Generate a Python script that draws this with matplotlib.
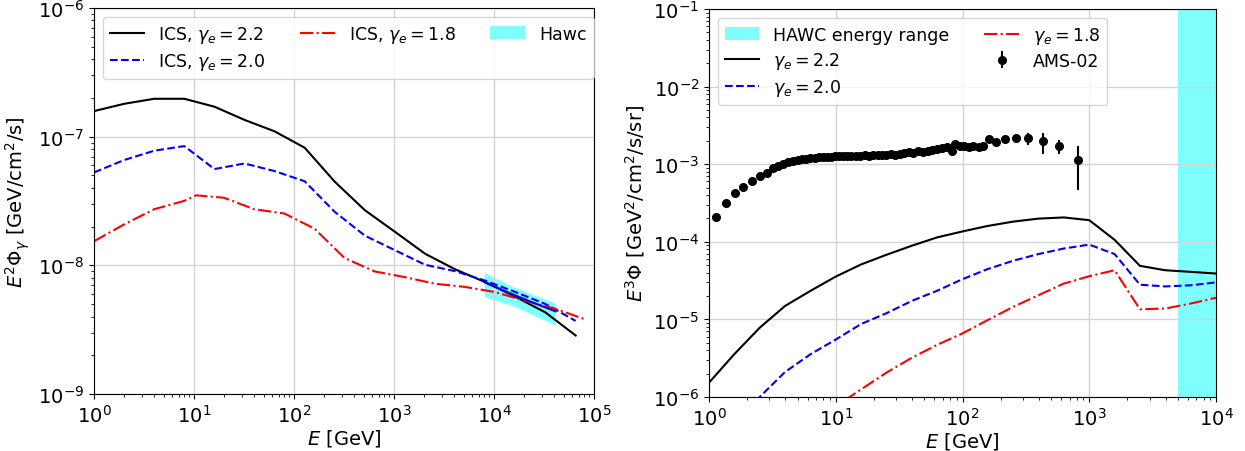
import numpy as np
import matplotlib
matplotlib.use("Agg")
import matplotlib.pyplot as plt

# ---- left panel: gamma-ray ICS spectra ----
E_22 = [1, 2, 4, 8, 16, 32, 64, 128, 256, 512, 1024, 2048, 4096, 8192, 16384, 32768, 65536]
ics_22 = [1.58e-7, 1.80e-7, 1.97e-7, 1.97e-7, 1.71e-7, 1.35e-7, 1.10e-7, 8.2e-8, 4.46e-8,
          2.68e-8, 1.82e-8, 1.23e-8, 9.3e-9, 7.4e-9, 5.7e-9, 4.3e-9, 2.85e-9]
E_20 = E_22
ics_20 = [5.27e-8, 6.58e-8, 7.78e-8, 8.45e-8, 5.6e-8, 6.19e-8, 5.4e-8, 4.5e-8, 2.6e-8,
          1.7e-8, 1.31e-8, 1.01e-8, 9.0e-9, 7.6e-9, 6.2e-9, 5.0e-9, 3.7e-9]
E_18 = [1, 2, 4, 8, 10.5, 20, 40, 80, 160, 320, 640, 1280, 2560, 5120, 10240, 20480, 40960, 81920]
ics_18 = [1.54e-8, 2.08e-8, 2.73e-8, 3.17e-8, 3.5e-8, 3.35e-8, 2.73e-8, 2.53e-8, 1.93e-8,
          1.14e-8, 8.97e-9, 8.1e-9, 7.2e-9, 6.8e-9, 6.2e-9, 5.3e-9, 4.6e-9, 3.8e-9]

hawc_E = [8.0e3, 1.5e4, 2.5e4, 4.1e4]
hawc_hi = [8.8e-9, 6.9e-9, 5.9e-9, 5.1e-9]
hawc_lo = [5.7e-9, 4.9e-9, 4.1e-9, 3.45e-9]
hawc_fit = [7.4e-9, 6.0e-9, 5.1e-9, 4.4e-9]

# ---- right panel: electron spectra ----
E_model = [1, 1.58, 2.51, 3.98, 6.31, 10, 15.8, 25.1, 39.8, 63.1, 100, 158, 251, 398,
           631, 1000, 1585, 2512, 3981, 6310, 10000]
el_22 = [1.53e-6, 3.55e-6, 7.8e-6, 1.49e-5, 2.33e-5, 3.56e-5, 5.1e-5, 6.8e-5, 8.9e-5,
         1.14e-4, 1.36e-4, 1.6e-4, 1.82e-4, 1.99e-4, 2.06e-4, 1.9e-4, 1.06e-4, 4.9e-5,
         4.3e-5, 4.1e-5, 3.9e-5]
el_20 = [2.2e-7, 4.8e-7, 1.0e-6, 2.1e-6, 3.55e-6, 5.5e-6, 8.7e-6, 1.2e-5, 1.73e-5,
         2.34e-5, 3.3e-5, 4.45e-5, 5.7e-5, 6.95e-5, 8.2e-5, 9.2e-5, 6.95e-5, 2.8e-5,
         2.66e-5, 2.75e-5, 3.0e-5]
el_18 = [4e-8, 8e-8, 1.5e-7, 2.5e-7, 4.5e-7, 7.6e-7, 1.25e-6, 2.06e-6, 3.2e-6, 4.7e-6,
         6.6e-6, 9.8e-6, 1.45e-5, 2.05e-5, 2.9e-5, 3.6e-5, 4.3e-5, 1.35e-5, 1.38e-5,
         1.6e-5, 1.9e-5]

ams_E = [1.13, 1.35, 1.6, 1.87, 2.18, 2.51, 2.87, 3.21, 3.52, 3.86, 4.23, 4.62,
         5.0, 5.4, 5.85, 6.3, 6.8, 7.35, 7.9, 8.5, 9.15, 9.85, 10.6, 11.4, 12.3, 13.3,
         14.4, 15.6, 16.9, 18.3, 19.8, 21.4, 23.2, 25.1, 27.2, 29.5, 32.0, 34.7, 37.7,
         41.0, 44.6, 48.6, 53.0, 57.9, 63.3, 69.3, 76.0, 82.0, 87.0, 95, 103, 112, 122,
         134, 146, 162, 184, 216, 264, 331, 430, 577, 811]
ams_flux = [2.1e-4, 3.16e-4, 4.2e-4, 5.03e-4, 6.1e-4, 7.0e-4, 7.7e-4, 8.9e-4, 9.6e-4,
            1.0e-3, 1.06e-3, 1.09e-3,
            1.12e-3, 1.15e-3, 1.17e-3, 1.19e-3, 1.2e-3, 1.22e-3, 1.23e-3, 1.24e-3,
            1.25e-3, 1.26e-3, 1.26e-3, 1.27e-3, 1.28e-3, 1.28e-3, 1.27e-3, 1.29e-3,
            1.30e-3, 1.28e-3, 1.31e-3, 1.32e-3, 1.30e-3, 1.33e-3, 1.35e-3, 1.33e-3,
            1.36e-3, 1.38e-3, 1.42e-3, 1.40e-3, 1.46e-3, 1.43e-3, 1.50e-3, 1.52e-3,
            1.58e-3, 1.64e-3, 1.68e-3, 1.50e-3, 1.82e-3, 1.74e-3, 1.70e-3, 1.69e-3,
            1.70e-3, 1.69e-3, 1.72e-3, 2.11e-3, 1.95e-3, 2.11e-3, 2.18e-3, 2.16e-3,
            1.97e-3, 1.73e-3, 1.13e-3]
# errors only significant for the last points
ams_tail_lo = [0.6e-4, 0.6e-4, 0.8e-4, 2.7e-4, 3.8e-4, 6.2e-4, 3.8e-4, 6.7e-4]
ams_tail_hi = [0.6e-4, 0.6e-4, 0.8e-4, 2.2e-4, 3.6e-4, 5.5e-4, 3.3e-4, 5.9e-4]

hawc_range = [5.0e3, 1.0e4]

fs = 14
lfs = 12.5
fig = plt.figure(figsize=(12.45, 4.52), dpi=100)

# left
ax1 = fig.add_axes([94 / 1245, 57 / 452, 500 / 1245, 386 / 452])
ax1.plot(E_22, ics_22, 'k-', lw=1.5, label=r'ICS, $\gamma_e = 2.2$')
ax1.plot(E_20, ics_20, 'b--', lw=1.5, label=r'ICS, $\gamma_e = 2.0$')
ax1.plot(E_18, ics_18, 'r-.', lw=1.5, label=r'ICS, $\gamma_e = 1.8$')
ax1.fill_between(hawc_E, hawc_lo, hawc_hi, color='cyan', alpha=0.5, lw=0, label='Hawc')
ax1.plot(hawc_E, hawc_fit, 'b-', lw=1.5)
ax1.set_xscale('log')
ax1.set_yscale('log')
ax1.set_xlim(1, 1e5)
ax1.set_ylim(1e-9, 1e-6)
ax1.grid(True, color='lightgray', lw=1)
ax1.set_xlabel(r'$E$ [GeV]', fontsize=fs, labelpad=1)
ax1.set_ylabel(r'$E^2\Phi_\gamma$ [GeV/cm$^2$/s]', fontsize=fs)
ax1.tick_params(labelsize=fs)
ax1.legend(loc='upper left', ncol=3, fontsize=lfs, labelspacing=0.35)

# right
ax2 = fig.add_axes([709 / 1245, 54 / 452, 507 / 1245, 388 / 452])
ax2.axvspan(hawc_range[0], hawc_range[1], color='cyan', alpha=0.5, lw=0,
            label='HAWC energy range')
ax2.plot(E_model, el_22, 'k-', lw=1.5, label=r'$\gamma_e = 2.2$')
ax2.plot(E_model, el_20, 'b--', lw=1.5, label=r'$\gamma_e = 2.0$')
ax2.plot(E_model, el_18, 'r-.', lw=1.5, label=r'$\gamma_e = 1.8$')
n_tail = len(ams_tail_lo)
err_lo = np.concatenate([np.zeros(len(ams_E) - n_tail), ams_tail_lo])
err_hi = np.concatenate([np.zeros(len(ams_E) - n_tail), ams_tail_hi])
ax2.errorbar(ams_E, ams_flux, yerr=[err_lo, err_hi], fmt='o', color='k', ms=5.5,
             elinewidth=1.5, label='AMS-02')
ax2.set_xscale('log')
ax2.set_yscale('log')
ax2.set_xlim(1, 1e4)
ax2.set_ylim(1e-6, 1e-1)
ax2.grid(True, color='lightgray', lw=1)
ax2.set_xlabel(r'$E$ [GeV]', fontsize=fs, labelpad=1)
ax2.set_ylabel(r'$E^3\Phi$ [GeV$^2$/cm$^2$/s/sr]', fontsize=fs)
ax2.tick_params(labelsize=fs)
ax2.legend(loc='upper left', ncol=2, fontsize=lfs, labelspacing=0.35)

fig.savefig('out.png', dpi=100)
